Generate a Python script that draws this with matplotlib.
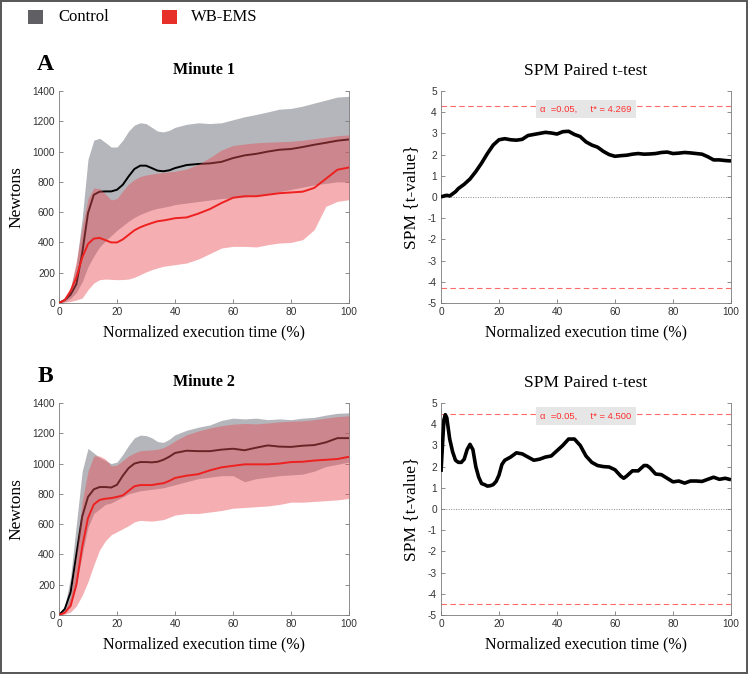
import matplotlib
matplotlib.use("Agg")
import matplotlib.pyplot as plt
from matplotlib.patches import Rectangle

plt.rcParams["axes.unicode_minus"] = False

# ---------------- data ----------------
x_force = [0, 2, 4, 6, 8, 10, 12, 14, 16, 18, 20, 22, 24, 26, 28, 30, 32, 34, 36, 38,
           40, 44, 48, 52, 56, 60, 64, 68, 72, 76, 80, 84, 88, 92, 96, 100]

# Minute 1
ctrl_mean1 = [0, 20, 55, 125, 330, 594, 715, 735, 737, 737, 748, 781, 836, 885, 907, 907, 891, 874, 870, 876,
              891, 911, 918, 922, 932, 957, 975, 985, 1000, 1012, 1017, 1030, 1045, 1058, 1072, 1080]
ctrl_up1 = [0, 30, 100, 260, 560, 950, 1075, 1088, 1060, 1030, 1030, 1075, 1135, 1175, 1190, 1185, 1160, 1135, 1130, 1140,
            1160, 1180, 1190, 1185, 1190, 1210, 1230, 1245, 1262, 1280, 1285, 1300, 1320, 1340, 1360, 1365]
ctrl_lo1 = [0, 10, 30, 70, 140, 240, 310, 370, 410, 445, 480, 510, 540, 565, 585, 600, 615, 625, 632, 640,
            650, 660, 670, 680, 690, 695, 700, 710, 720, 735, 750, 765, 780, 790, 800, 800]
wb_mean1 = [0, 20, 80, 170, 300, 390, 425, 430, 415, 400, 400, 420, 450, 480, 500, 515, 528, 540, 545, 552,
            560, 565, 590, 620, 660, 695, 705, 705, 715, 725, 730, 735, 760, 820, 880, 895]
wb_up1 = [0, 30, 100, 280, 500, 690, 760, 755, 720, 680, 690, 740, 785, 815, 835, 845, 852, 858, 862, 866,
          870, 885, 915, 960, 1010, 1040, 1050, 1058, 1062, 1065, 1068, 1075, 1085, 1095, 1105, 1110]
wb_lo1 = [0, 5, 10, 20, 33, 88, 132, 154, 158, 156, 154, 155, 158, 170, 187, 205, 220, 232, 242, 248,
          253, 264, 290, 326, 363, 374, 374, 370, 385, 396, 400, 418, 484, 638, 671, 682]

# Minute 2
ctrl_mean2 = [0, 40, 150, 400, 650, 780, 830, 845, 845, 842, 860, 920, 970, 1000, 1010, 1010, 1008, 1012, 1025, 1045,
              1070, 1085, 1082, 1082, 1092, 1098, 1088, 1105, 1120, 1112, 1110, 1118, 1122, 1140, 1168, 1168]
ctrl_up2 = [0, 60, 250, 600, 950, 1100, 1070, 1040, 1020, 1000, 1010, 1060, 1120, 1170, 1188, 1185, 1170, 1145, 1140, 1160,
            1190, 1220, 1240, 1255, 1285, 1300, 1295, 1300, 1290, 1295, 1290, 1300, 1305, 1320, 1332, 1335]
ctrl_lo2 = [0, 20, 70, 200, 400, 580, 670, 700, 730, 740, 760, 780, 800, 810, 820, 825, 830, 835, 840, 850,
            860, 880, 900, 910, 920, 920, 880, 900, 910, 920, 925, 930, 950, 980, 995, 1010]
wb_mean2 = [0, 15, 60, 200, 450, 640, 730, 760, 768, 772, 780, 790, 820, 850, 858, 858, 858, 865, 870, 885,
            905, 920, 930, 955, 975, 985, 995, 995, 995, 1000, 1010, 1012, 1020, 1025, 1030, 1045]
wb_up2 = [0, 30, 120, 400, 750, 950, 1050, 1050, 1030, 985, 990, 1020, 1050, 1070, 1085, 1088, 1090, 1095, 1105, 1125,
          1150, 1190, 1215, 1235, 1250, 1260, 1265, 1262, 1268, 1275, 1280, 1282, 1290, 1300, 1310, 1315]
wb_lo2 = [0, 5, 20, 60, 130, 220, 330, 430, 490, 530, 550, 570, 590, 615, 625, 622, 620, 625, 630, 645,
          660, 670, 670, 680, 690, 705, 710, 715, 720, 730, 745, 745, 750, 755, 760, 770]

# SPM t-values
spm_x1 = [0, 1, 2, 3, 4, 5, 6, 8, 10, 12, 14, 16, 18, 20, 22, 24, 26, 28, 30, 32, 34, 36, 38, 40, 42, 44, 46, 48,
          50, 52, 54, 56, 58, 60, 62, 64, 66, 68, 70, 72, 74, 76, 78, 80, 82, 84, 86, 88, 90, 92, 94, 96, 98, 100]
spm_t1 = [0, 0.05, 0.08, 0.05, 0.15, 0.25, 0.4, 0.6, 0.85, 1.2, 1.6, 2.05, 2.45, 2.7, 2.75, 2.7, 2.68, 2.72, 2.9,
          2.95, 3.0, 3.05, 3.02, 2.97, 3.08, 3.1, 2.95, 2.85, 2.6, 2.45, 2.35, 2.15, 2.0, 1.92, 1.95, 1.97, 2.02,
          2.05, 2.02, 2.03, 2.05, 2.1, 2.12, 2.05, 2.07, 2.1, 2.08, 2.05, 2.02, 1.9, 1.75, 1.75, 1.72, 1.7]
spm_x2 = [0, 0.5, 1, 1.5, 2, 3, 4, 5, 6, 7, 8, 9, 10, 11, 12, 13, 14, 15, 16, 17, 18, 19, 20, 21, 22, 24, 26, 28,
          30, 32, 34, 36, 38, 40, 42, 44, 46, 48, 50, 52, 54, 56, 58, 60, 62, 63, 64, 66, 68, 70, 71, 72, 74, 76,
          78, 80, 82, 84, 86, 88, 90, 92, 94, 96, 98, 100]
spm_t2 = [1.75, 3.0, 4.2, 4.45, 4.3, 3.3, 2.7, 2.3, 2.2, 2.2, 2.35, 2.8, 3.05, 2.8, 2.0, 1.5, 1.2, 1.15, 1.08, 1.1,
          1.15, 1.3, 1.6, 2.1, 2.3, 2.45, 2.65, 2.6, 2.45, 2.3, 2.35, 2.45, 2.5, 2.75, 3.0, 3.3, 3.3, 3.0, 2.5, 2.2,
          2.05, 2.0, 1.98, 1.85, 1.55, 1.45, 1.55, 1.8, 1.8, 2.05, 2.05, 1.95, 1.65, 1.62, 1.45, 1.28, 1.32, 1.22,
          1.32, 1.32, 1.3, 1.4, 1.5, 1.4, 1.45, 1.38]
t_crit = [4.269, 4.500]
alpha_level = 0.05

force_titles = ["Minute 1", "Minute 2"]
spm_title = "SPM Paired t-test"
panel_letters = ["A", "B"]
legend_labels = ["Control", "WB-EMS"]
xlabel = "Normalized execution time (%)"
x_ticks = [0, 20, 40, 60, 80, 100]
force_ticks = [0, 200, 400, 600, 800, 1000, 1200, 1400]
spm_ticks = [-5, -4, -3, -2, -1, 0, 1, 2, 3, 4, 5]

# ---------------- style ----------------
SERIF = "Liberation Serif"
SANS = "Liberation Sans"
GRAY_FILL = "#b4b6bb"
RED_FILL = "#e94f56"
RED_LINE = "#ee2020"
SPINE = "#7a7a7a"

W, H = 748, 674
fig = plt.figure(figsize=(W / 100, H / 100), dpi=100)


def ax_at(l, t, r, b):
    return fig.add_axes([l / W, 1 - b / H, (r - l) / W, (b - t) / H])


def style(ax):
    for s in ["left", "bottom", "right"]:
        ax.spines[s].set_color(SPINE)
        ax.spines[s].set_linewidth(0.6)
    ax.spines["top"].set_visible(False)
    ax.tick_params(direction="in", length=3, width=0.6, color=SPINE, labelsize=7.3,
                   labelcolor="#333333", right=True, pad=3)
    for lab in ax.get_xticklabels() + ax.get_yticklabels():
        lab.set_fontfamily(SANS)


rows = [
    (91, 303, (ctrl_mean1, ctrl_up1, ctrl_lo1, wb_mean1, wb_up1, wb_lo1), (spm_x1, spm_t1)),
    (403, 615, (ctrl_mean2, ctrl_up2, ctrl_lo2, wb_mean2, wb_up2, wb_lo2), (spm_x2, spm_t2)),
]

for i, (top, bot, fd, sd) in enumerate(rows):
    cm, cu, cl, wm, wu, wl = fd
    ax = ax_at(59, top, 349, bot)
    ax.fill_between(x_force, cl, cu, color=GRAY_FILL, lw=0, zorder=1)
    ax.plot(x_force, cm, color="black", lw=1.4, zorder=2)
    ax.fill_between(x_force, wl, wu, color=RED_FILL, alpha=0.45, lw=0, zorder=3)
    ax.plot(x_force, wm, color=RED_LINE, lw=1.4, zorder=4)
    ax.set_xlim(0, 100)
    ax.set_ylim(0, 1400)
    ax.set_xticks(x_ticks)
    ax.set_yticks(force_ticks)
    style(ax)
    ax.set_ylabel("Newtons", fontfamily=SERIF, fontsize=12.5)
    ax.yaxis.set_label_coords(-(59 - 24) / 290, 0.5)
    ax.set_xlabel(xlabel, fontfamily=SERIF, fontsize=11.5)
    ax.xaxis.set_label_coords(0.5, -(21) / 212)
    fig.text(204 / W, 1 - (top - 21) / H, force_titles[i], fontfamily=SERIF, fontweight="bold",
             fontsize=11.5, ha="center", va="center")
    fig.text(45 / W, 1 - (top - 27) / H, panel_letters[i], fontfamily=SERIF, fontweight="bold",
             fontsize=17, ha="center", va="center")

    sx, st = sd
    ax2 = ax_at(441, top, 731, bot)
    ax2.plot(sx, st, color="black", lw=2.6, zorder=3, solid_capstyle="butt")
    ax2.axhline(0, color="#888888", lw=0.7, ls=(0, (1, 1.5)), zorder=1)
    ax2.axhline(t_crit[i], color="#ff6b6b", lw=0.8, ls=(0, (5, 3)), zorder=2)
    ax2.axhline(-t_crit[i], color="#ff6b6b", lw=0.8, ls=(0, (5, 3)), zorder=2)
    ax2.text(50, t_crit[i] - 0.12,
             "\u03b1  =%.2f,     t* = %.3f" % (alpha_level, t_crit[i]),
             fontfamily=SANS, fontsize=6.8, color="#ff3030", ha="center", va="center", zorder=4,
             bbox=dict(boxstyle="square,pad=0.45", fc="#e6e6e6", ec="none"))
    ax2.set_xlim(0, 100)
    ax2.set_ylim(-5, 5)
    ax2.set_xticks(x_ticks)
    ax2.set_yticks(spm_ticks)
    style(ax2)
    ax2.set_ylabel("SPM {t-value}", fontfamily=SERIF, fontsize=12.5)
    ax2.yaxis.set_label_coords(-(441 - 419) / 290, 0.5)
    ax2.set_xlabel(xlabel, fontfamily=SERIF, fontsize=11.5)
    ax2.xaxis.set_label_coords(0.5, -(21) / 212)
    fig.text(586 / W, 1 - (top - 20) / H, spm_title, fontfamily=SERIF,
             fontsize=12.5, ha="center", va="center")

# legend
fig.patches.append(Rectangle((28 / W, 1 - 24 / H), 15 / W, 14 / H, transform=fig.transFigure,
                             fc="#5f5f64", ec="none"))
fig.text(58 / W, 1 - 17 / H, legend_labels[0], fontfamily=SERIF, fontsize=12, va="center", ha="left")
fig.patches.append(Rectangle((162 / W, 1 - 24 / H), 15 / W, 14 / H, transform=fig.transFigure,
                             fc="#e8302a", ec="none"))
fig.text(191 / W, 1 - 17 / H, legend_labels[1], fontfamily=SERIF, fontsize=12, va="center", ha="left")

# outer frame
fig.patches.append(Rectangle((0.8 / W, 0.8 / H), (W - 1.6) / W, (H - 1.6) / H, transform=fig.transFigure,
                             fc="none", ec="#555555", lw=1.4))

fig.savefig("out.png", dpi=100)
